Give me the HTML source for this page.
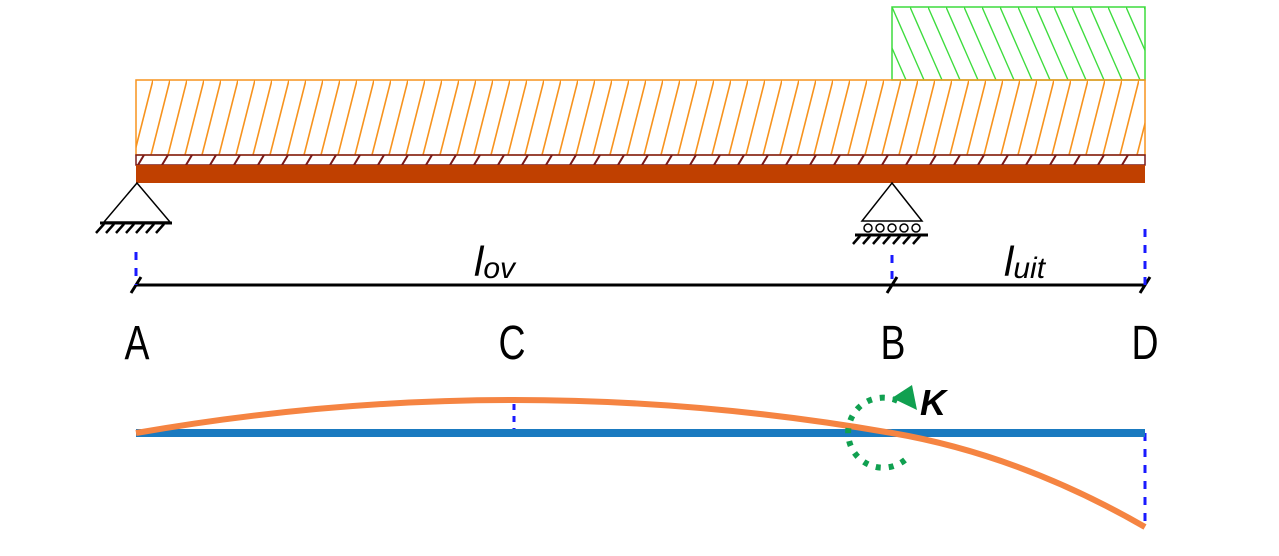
<!DOCTYPE html>
<html><head><meta charset="utf-8"><style>
html,body{margin:0;padding:0;background:#fff;}
svg{display:block;}
</style></head><body>
<svg width="1279" height="556" viewBox="0 0 1279 556" xmlns="http://www.w3.org/2000/svg">
<defs>
<pattern id="ho" patternUnits="userSpaceOnUse" width="17" height="75" x="136" y="80">
<line x1="17" y1="0" x2="-2" y2="75" stroke="#f7931e" stroke-width="1.6"/>
<line x1="34" y1="0" x2="15" y2="75" stroke="#f7931e" stroke-width="1.6"/>
</pattern>
<pattern id="hg" patternUnits="userSpaceOnUse" width="18" height="73" x="892" y="7">
<line x1="0" y1="0" x2="32" y2="73" stroke="#3ddc3d" stroke-width="1.4"/>
<line x1="-18" y1="0" x2="14" y2="73" stroke="#3ddc3d" stroke-width="1.4"/>
<line x1="-36" y1="0" x2="-4" y2="73" stroke="#3ddc3d" stroke-width="1.4"/>
</pattern>
<pattern id="hb" patternUnits="userSpaceOnUse" width="24" height="10" x="136" y="155">
<line x1="8" y1="0" x2="2" y2="10" stroke="#7a1a1a" stroke-width="2"/>
</pattern>
</defs>
<rect x="892" y="7" width="253" height="73" fill="url(#hg)" stroke="#3ddc3d" stroke-width="1.5"/>
<rect x="136" y="80" width="1009" height="75" fill="url(#ho)" stroke="#f7931e" stroke-width="1.5"/>
<rect x="136" y="155" width="1009" height="10" fill="url(#hb)" stroke="#7a1a1a" stroke-width="1.5"/>
<rect x="136" y="165" width="1009" height="18" fill="#c04000"/>
<g stroke="#000" fill="none" stroke-width="1.5">
<polygon points="137,183 104,222 170,222" fill="#fff"/>
<line x1="100" y1="223" x2="172" y2="223" stroke-width="3"/>
<path d="M104 224l-8 9M114 224l-8 9M124 224l-8 9M134 224l-8 9M144 224l-8 9M154 224l-8 9M164 224l-8 9" stroke-width="2.5"/>
</g>
<g stroke="#000" fill="none" stroke-width="1.5">
<polygon points="892,183 862,221 922,221" fill="#fff"/>
<circle cx="868" cy="228" r="4"/><circle cx="880" cy="228" r="4"/><circle cx="892" cy="228" r="4"/><circle cx="904" cy="228" r="4"/><circle cx="916" cy="228" r="4"/>
<line x1="855" y1="235" x2="928" y2="235" stroke-width="3"/>
<path d="M860 236l-7 8M870 236l-7 8M880 236l-7 8M890 236l-7 8M900 236l-7 8M910 236l-7 8M920 236l-7 8" stroke-width="2.5"/>
</g>
<g stroke="#000">
<line x1="136" y1="285" x2="1145" y2="285" stroke-width="3"/>
<path d="M131 293l10-16M887 293l10-16M1140 293l10-16" stroke-width="3"/>
</g>
<g stroke="#1a1aff" stroke-width="3" stroke-dasharray="8,8">
<line x1="136" y1="252" x2="136" y2="285"/>
<line x1="892" y1="255" x2="892" y2="285"/>
<line x1="1145" y1="229" x2="1145" y2="285"/>
<line x1="514" y1="404" x2="514" y2="433" stroke-dasharray="6,6"/>
<line x1="1145" y1="433" x2="1145" y2="527"/>
</g>
<g font-family="Liberation Sans, sans-serif" font-style="italic" font-size="42" fill="#000">
<text x="474" y="276">l<tspan font-size="30" dy="2">ov</tspan></text>
<text x="1004" y="276">l<tspan font-size="30" dy="2">uit</tspan></text>
</g>
<g font-family="Liberation Sans, sans-serif" font-size="48" fill="#000" text-anchor="middle">
<text transform="translate(137,359) scale(0.78,1)">A</text>
<text transform="translate(512,359) scale(0.78,1)">C</text>
<text transform="translate(893,359) scale(0.78,1)">B</text>
<text transform="translate(1145,359) scale(0.78,1)">D</text>
</g>
<line x1="136" y1="433" x2="1145" y2="433" stroke="#1a7ac0" stroke-width="8"/>
<path d="M136 433 Q514 367 892 433 Q1020 455 1145 527" fill="none" stroke="#f58442" stroke-width="6"/>
<path d="M905 460 A35 35 0 1 1 900 402" fill="none" stroke="#10a050" stroke-width="6" stroke-dasharray="5,8"/>
<polygon points="892,398 912,385 917,410" fill="#10a050"/>
<text x="920" y="415" font-family="Liberation Sans, sans-serif" font-style="italic" font-weight="bold" font-size="36" fill="#000">K</text>
</svg>
</body></html>
